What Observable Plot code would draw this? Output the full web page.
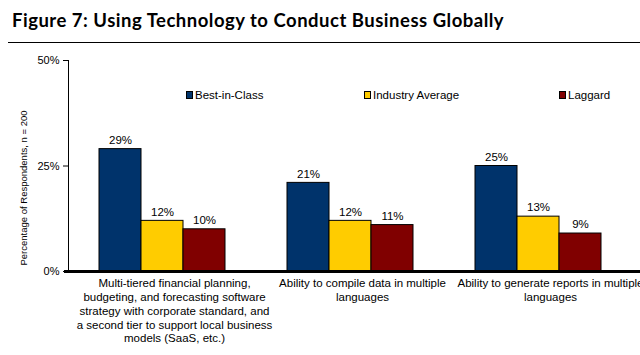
<!DOCTYPE html>
<html>
<head>
<meta charset="utf-8">
<script src="https://cdn.jsdelivr.net/npm/d3@7"></script>
<script src="https://cdn.jsdelivr.net/npm/@observablehq/plot@0.6"></script>
<style>
  html, body { margin: 0; padding: 0; background: #fff; overflow: hidden; }
  #wrap { position: relative; width: 640px; height: 355px; overflow: hidden; }
  #title { position: absolute; left: 12px; top: 9px; font-family: Lato, sans-serif; font-weight: 700; font-size: 18.5px; letter-spacing: 0.5px; color: #000; white-space: nowrap; }
  #rule { position: absolute; left: 8px; right: 0; top: 42px; height: 0; border-top: 1.3px solid #000; }
  #chart { position: absolute; left: 0; top: 48px; }
  .leg { position: absolute; top: 89px; font-family: Arial, "Liberation Sans", sans-serif; font-size: 11.5px; color: #000; display: flex; align-items: center; white-space: nowrap; }
  .sw { display: inline-block; width: 5px; height: 6px; border: 1px solid #000; margin-right: 2px; }
</style>
</head>
<body>
<div id="wrap">
  <div id="title">Figure 7: Using Technology to Conduct Business Globally</div>
  <div id="rule"></div>
  <div id="chart"></div>
</div>
<script>
const categories = [
  "Multi-tiered financial planning, budgeting, and forecasting software strategy with corporate standard, and a second tier to support local business models (SaaS, etc.)",
  "Ability to compile data in multiple languages",
  "Ability to generate reports in multiple languages"
];
const categoryLabels = [
  "Multi-tiered financial planning,\nbudgeting, and forecasting software\nstrategy with corporate standard, and\na second tier to support local business\nmodels (SaaS, etc.)",
  "Ability to compile data in multiple\nlanguages",
  "Ability to generate reports in multiple\nlanguages"
];
const series = ["Best-in-Class", "Industry Average", "Laggard"];
const bestInClass = [29, 21, 25];
const industryAverage = [12, 12, 13];
const laggard = [10, 11, 9];
const colors = ["#00336B", "#FFCC00", "#800000"];
const yTicks = [0, 25, 50];
const yLabel = "Percentage of Respondents, n = 200";

const values = [bestInClass, industryAverage, laggard];
const data = [];
categories.forEach((c, i) => series.forEach((s, j) => data.push({category: c, series: s, value: values[j][i]})));
const labelOf = new Map(categories.map((c, i) => [c, categoryLabels[i]]));

const font = "Arial, 'Liberation Sans', sans-serif";

const chart = Plot.plot({
  width: 640,
  height: 307,
  marginLeft: 67,
  marginRight: 8,
  marginTop: 12,
  marginBottom: 84,
  style: {fontFamily: font, fontSize: "11px", color: "#000", overflow: "visible"},
  fx: {domain: categories, padding: 0, label: null, axis: null},
  x: {domain: series, paddingInner: 0, paddingOuter: 0.738, axis: null},
  y: {domain: [0, 50], ticks: yTicks, tickFormat: d => d + "%", tickSize: 5, tickPadding: 4, line: true, label: null},
  color: {domain: series, range: colors},
  marks: [
    Plot.barY(data, {fx: "category", x: "series", y: "value", fill: "series", stroke: "#000", strokeWidth: 1}),
    Plot.text(data, {fx: "category", x: "series", y: "value", text: d => d.value + "%", dy: -9, fontSize: 11.5, fill: "#000"}),
    Plot.text([yLabel], {fx: () => categories[0], frameAnchor: "left", textAnchor: "middle", rotate: -90, dx: -45, dy: 22, fontSize: 9.5, fill: "#000"}),
    Plot.ruleY([0], {stroke: "#000", strokeWidth: 3, insetLeft: -4, insetRight: -8}),
    Plot.axisFx({anchor: "bottom", tickSize: 0, tickPadding: 6, label: null, tickFormat: d => labelOf.get(d), lineHeight: 1.2, lineAnchor: "top", dx: 12, fontSize: 11.5, fill: "#000"})
  ]
});
document.getElementById("chart").appendChild(chart);

const legendX = [186, 364, 559];
series.forEach((s, i) => {
  const el = document.createElement("div");
  el.className = "leg";
  el.style.left = legendX[i] + "px";
  el.innerHTML = `<span class="sw" style="background:${colors[i]}"></span>${s}`;
  document.getElementById("wrap").appendChild(el);
});
</script>
</body>
</html>
